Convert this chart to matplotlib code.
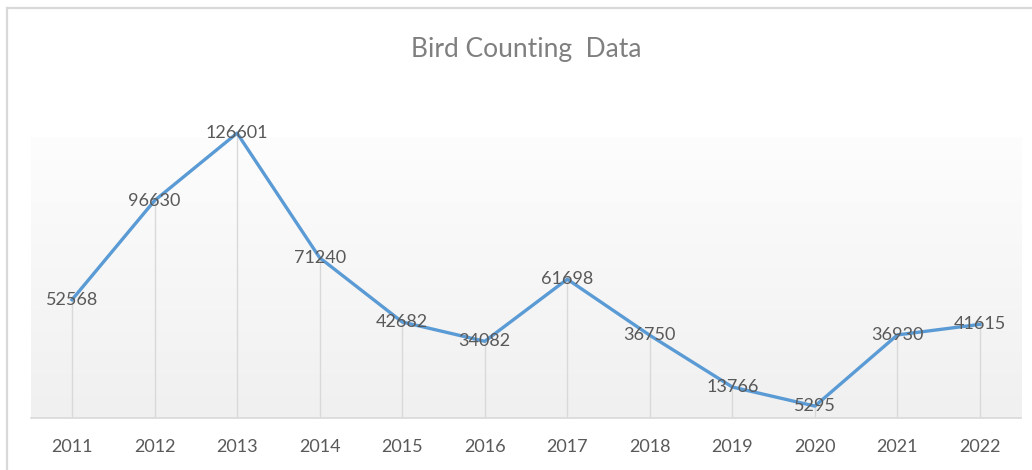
import numpy as np
import matplotlib
matplotlib.use("Agg")
import matplotlib.pyplot as plt
from matplotlib.lines import Line2D
from matplotlib.colors import LinearSegmentedColormap

years = ["2011", "2012", "2013", "2014", "2015", "2016", "2017", "2018", "2019", "2020", "2021", "2022"]
counts = [52568, 96630, 126601, 71240, 42682, 34082, 61698, 36750, 13766, 5295, 36930, 41615]
title = "Bird Counting  Data"

W, H = 1032, 470
fig = plt.figure(figsize=(W / 100, H / 100), dpi=100)
fig.patch.set_facecolor("white")

FONT = ["Lato", "DejaVu Sans"]
plt.rcParams["font.family"] = FONT

# axes in pixel layout
left_px, right_px, bottom_px, top_px = 30.75, 1021.25, 418, 103
ax = fig.add_axes([left_px / W, (H - bottom_px) / H, (right_px - left_px) / W, (bottom_px - top_px) / H])
ax.set_facecolor("none")
ymax = 140000
ax.set_xlim(-0.5, len(years) - 0.5)
ax.set_ylim(0, ymax)

# gradient background of plot area
grad_top = (bottom_px - 137) / (bottom_px - top_px) * ymax
cmap = LinearSegmentedColormap.from_list("g", ["#f0f0f0", "#fdfdfd"])
grad = np.linspace(0, 1, 256).reshape(-1, 1)
ax.imshow(grad, cmap=cmap, aspect="auto", origin="lower",
          extent=(-0.5, len(years) - 0.5, 0, grad_top), zorder=0)

x = np.arange(len(years))
# drop lines
ax.vlines(x, 0, counts, color="#d9d9d9", linewidth=1.0, zorder=1)
ax.plot(x, counts, color="#5b9bd5", linewidth=2.4, solid_joinstyle="round", zorder=3)

for xi, v in zip(x, counts):
    ax.text(xi, v, str(v), ha="center", va="center", fontsize=13, color="#595959", zorder=4)

for s in ["left", "right", "top"]:
    ax.spines[s].set_visible(False)
ax.spines["bottom"].set_color("#d9d9d9")
ax.spines["bottom"].set_linewidth(1.2)
ax.set_yticks([])
ax.set_xticks(x)
ax.set_xticklabels(years, fontsize=13, color="#595959")
ax.tick_params(axis="x", length=0, pad=15)

fig.text(526.5 / W, 1 - 50 / H, title, ha="center", va="center", fontsize=19, color="#7f7f7f")

# chart border (top and left visible)
fig.add_artist(Line2D([7 / W, 1.01], [1 - 8 / H, 1 - 8 / H], transform=fig.transFigure, color="#d9d9d9", linewidth=1.6))
fig.add_artist(Line2D([7 / W, 7 / W], [-0.01, 1 - 8 / H], transform=fig.transFigure, color="#d9d9d9", linewidth=1.6))

fig.savefig("out.png", dpi=100)
